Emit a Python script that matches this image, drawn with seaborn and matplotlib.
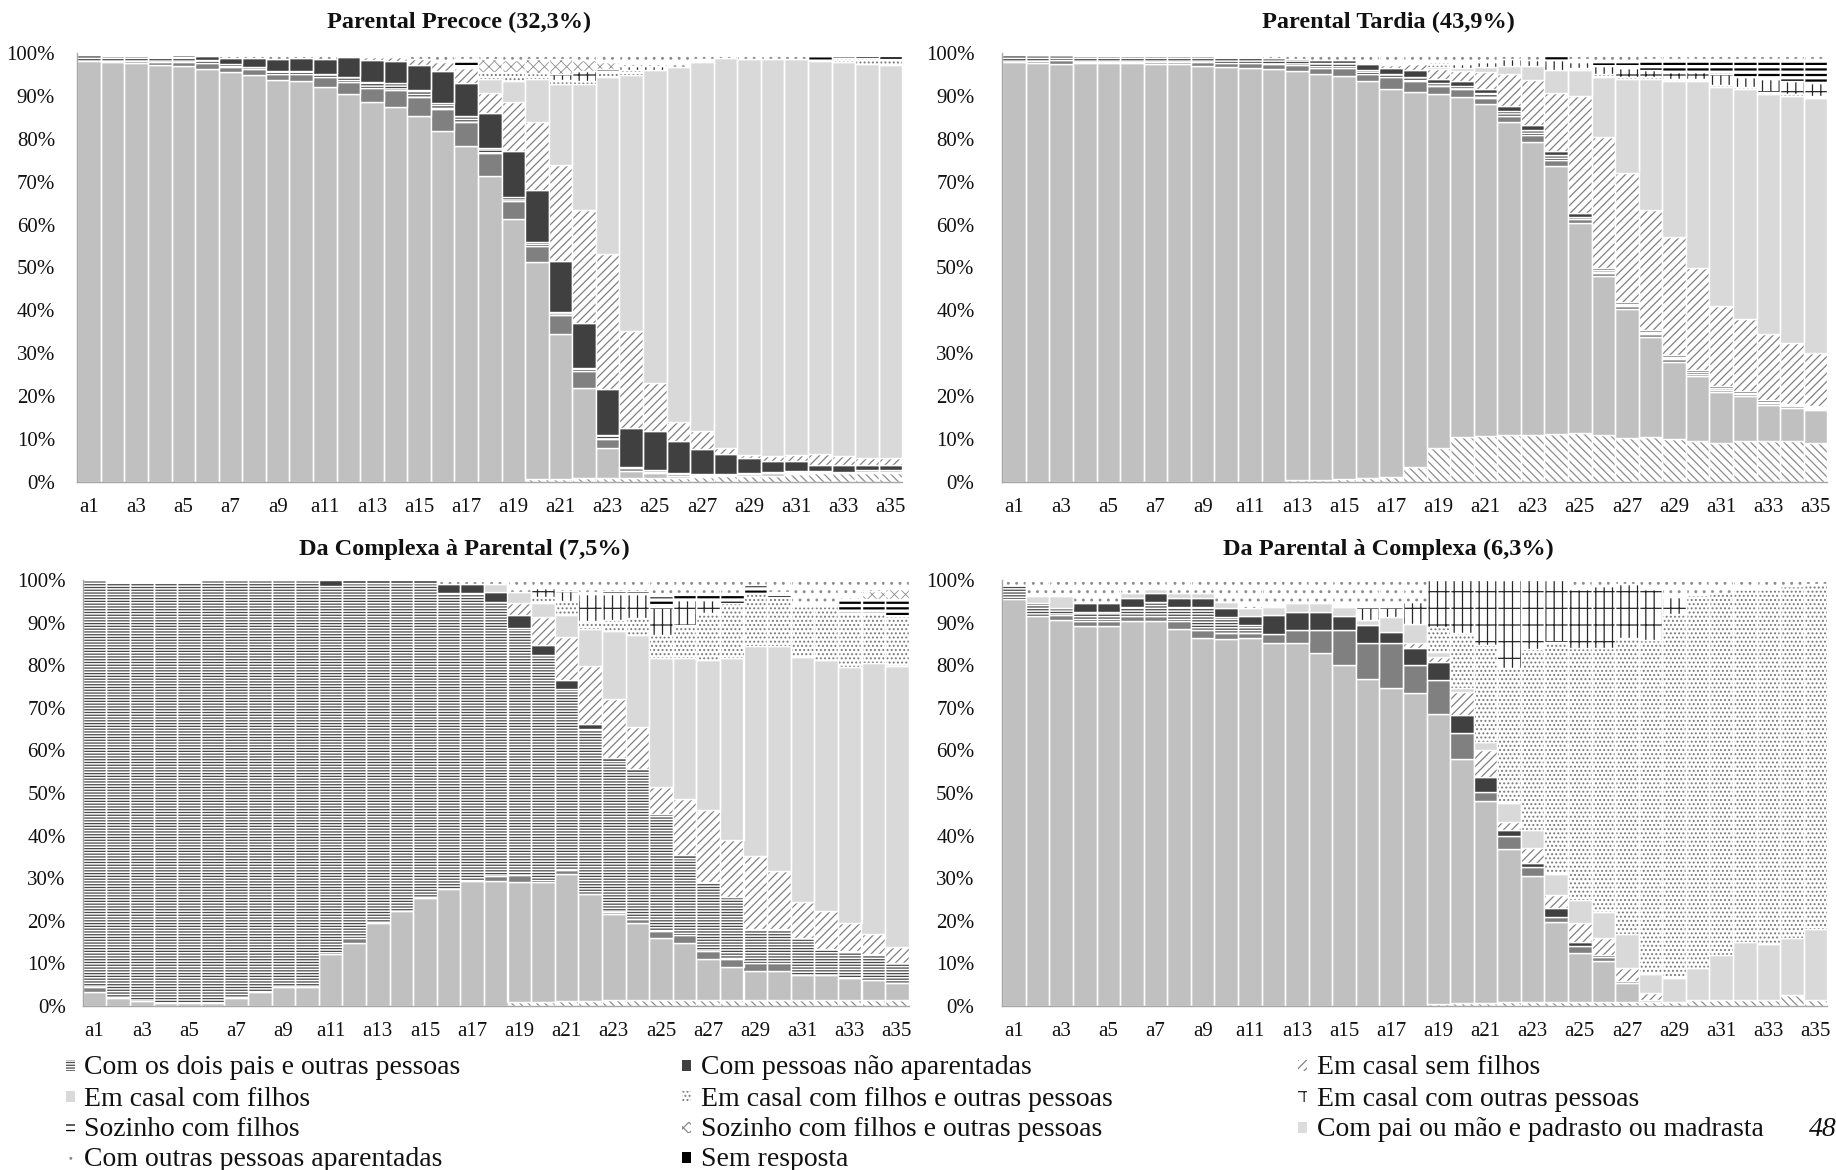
import numpy as np
import matplotlib
matplotlib.use("Agg")
import matplotlib.pyplot as plt
from matplotlib.patches import Rectangle
import seaborn as sns

# ─────────────────────────────────────────
# DADOS: percentagem acumulada no topo de cada categoria (None = ausente)
# ─────────────────────────────────────────
N = None
IDADES = [f"a{i}" for i in range(1, 36)]

# ordem de empilhamento (de baixo para cima); "apa" fecha sempre nos 100%
ORDEM = ["soz", "dp", "um", "dpo", "nap", "csf", "ccf", "cfo", "cco", "scf", "sfo", "sr", "apa"]

P1 = {  # Parental Precoce
    "soz": [N]*19 + [0.8, 0.8, 1.0, 1.0, 1.0, 1.0, 1.0, 1.2, 1.5, 1.5, 1.5, 1.8, 2.0, 2.0, 2.0, 2.0],
    "dp":  [98.1, 97.8, 97.6, 97.1, 97.0, 96.3, 95.6, 94.9, 93.7, 93.5, 92.0, 90.4, 88.6, 87.3, 85.3, 81.8,
            78.3, 71.4, 61.2, 51.2, 34.4, 21.8, 8.0, 2.5, 2.0, 1.5, 1.4, 1.6, 1.8, 2.0, 2.2, 2.3, 2.2, 2.4, 2.4],
    "um":  [N, 98.2, 98.2, 97.9, 98.0, 97.6, 96.8, 96.2, 95.1, 95.1, 94.3, 93.3, 91.8, 91.4, 89.7, 86.9,
            84.0, 76.8, 65.5, 55.0, 38.9, 25.9, 10.0, 3.2, 2.4, 1.8, 1.6, 1.7] + [N]*7,
    "dpo": [99.8, 99.2, 99.2, 99.0, 99.0, 98.3, 97.4, 96.7, 95.8, 95.8, 95.1, 94.3, 93.3, 92.9, 91.3, 88.4,
            85.2, 77.9, 66.4, 56.0, 39.7, 26.5, 11.0, 3.6, 2.8, 2.2, 1.8, 1.9, 2.0, 2.3, 2.5, 2.6, 2.4, 2.7, 2.7],
    "nap": [N, N, N, N, 99.6, 99.2, 98.9, 98.9, 98.6, 98.8, 98.6, 99.0, 98.4, 98.1, 97.2, 95.8,
            92.9, 85.9, 77.2, 68.1, 51.5, 37.0, 21.6, 12.7, 12.0, 9.5, 7.8, 6.5, 5.5, 5.0, 4.8, 4.0, 4.0, 4.0, 4.0],
    "csf": [N]*12 + [99.0, 99.0, 98.5, 98.0, 96.4, 90.6, 88.6, 83.8, 73.8, 63.4, 53.1, 35.2, 23.0, 14.1,
                     12.0, 8.0, 6.2, 6.0, 6.3, 6.5, 6.0, 5.5, 5.5],
    "ccf": [N]*17 + [93.9, 93.5, 93.9, 92.7, 92.7, 94.5, 94.9, 96.0, 96.8, 97.8, 98.8, 98.5, 98.6, 98.6,
                     98.1, 97.9, 97.5, 97.2],
    "cfo": [N]*17 + [95.5, 95.5, 95.3, 93.7, 93.5, 95.5, 96.0] + [N]*8 + [98.8, 98.8, 98.6],
    "cco": [N]*20 + [95.2, 95.9, N, 97.0, 97.0] + [N]*10,
    "scf": [N]*16 + [98.6] + [N]*5 + [96.2] + [N]*3 + [98.6] + [N]*4 + [99.3, 99.4, 99.7, 99.5],
    "sfo": [N]*17 + [98.5, 98.3, 98.5, 98.5, 98.3, 98.0] + [N]*12,
}

P2 = {  # Parental Tardia
    "soz": [N]*12 + [0.4, 0.5, 0.7, 1.0, 1.2, 3.5, 8.0, 10.5, 10.8, 11.0, 11.0, 11.2, 11.5, 11.0, 10.2,
                     10.5, 10.0, 9.5, 9.0, 9.5, 9.5, 9.5, 9.0],
    "dp":  [98.0, 97.6, 97.4, 97.6, 97.6, 97.6, 97.4, 97.4, 97.0, 96.8, 96.6, 96.2, 95.8, 95.2, 94.6, 93.5,
            91.7, 91.0, 90.5, 89.8, 88.1, 83.8, 79.3, 73.7, 60.4, 48.0, 40.4, 33.8, 28.0, 24.7, 21.0, 20.0,
            17.9, 17.3, 16.8],
    "um":  [N, 98.2, 98.4, 97.9, 97.9, 97.9, 97.9, 98.0, 97.8, 97.6, 97.7, 97.4, 97.3, 96.6, 96.5, 95.1,
            94.3, 93.5, 92.3, 91.6, 89.6, 85.3, 80.9, 75.1, 61.2, 48.8, 41.0, 34.4, 28.6, 25.2, 21.5, 20.4,
            18.3, 17.6, 17.1],
    "dpo": [99.8, 99.6, 99.6, 99.3, 99.3, 99.3, 99.3, 99.3, 99.2, 99.0, 99.0, 98.8, 98.6, 97.7, 97.6, 96.0,
            95.1, 94.4, 93.1, 92.3, 90.6, 86.5, 82.1, 76.3, 61.8, 49.4, 41.5, 35.0, 29.2, 25.7, 22.0, 20.8,
            18.6, 17.9, 17.4],
    "nap": [N]*13 + [98.4, 98.4, 97.4, 96.6, 96.0, 93.9, 93.5, 91.6, 87.7, 83.3, 77.2, 62.7, 50.0, 42.0,
                     35.5, 29.6, 26.0, 22.4, 21.2, 19.0, 18.2, 17.7],
    "csf": [N]*16 + [97.3, 97.4, 96.3, 95.8, 95.6, 95.1, 93.7, 90.6, 90.0, 80.5, 72.0, 63.5, 57.0, 50.0,
                     41.0, 38.0, 34.5, 32.5, 30.0],
    "ccf": [N]*18 + [96.8, 96.5, 96.8, 97.0, 97.0, 96.0, 96.0, 94.5, 94.0, 94.0, 93.5, 93.5, 92.0, 91.5,
                     90.5, 90.0, 89.5],
    "cfo": [N]*18 + [98.0] + [N]*5 + [96.5, 95.0, 94.5, 94.5, 94.0, 94.0, 92.5, 92.0, 91.0, 90.5, 90.0],
    "cco": [N]*19 + [97.5, 98.0, 98.5, 98.4, 98.4, 98.0, 97.0, 96.5, 96.0, 95.5, 95.5, 95.0, 94.5, 94.0,
                     93.5, 93.0],
    "scf": [N]*23 + [99.6, 98.5, 98.0, 98.0, 98.5, 98.5, 98.5, 98.5, 98.5, 98.5, 98.5, 98.5],
}

P3 = {  # Da Complexa à Parental
    "soz": [N]*18 + [1.0, 1.0, 1.2, 1.2, 1.5, 1.5, 1.5, 1.5, 1.5, 1.5, 1.5, 1.5, 1.5, 1.5, 1.5, 1.5, 1.5],
    "dp":  [3.4, 1.9, 1.2, 0.7, 0.7, 0.7, 1.9, 3.4, 4.5, 4.5, 12.1, 14.8, 19.5, 22.3, 25.3, 27.5, 29.4,
            29.3, 29.0, 29.2, 31.0, 26.3, 21.6, 19.5, 15.9, 14.8, 11.0, 9.2, 8.3, 8.3, 7.3, 7.3, 6.6, 6.2, 5.4],
    "um":  [4.5] + [N]*10 + [15.9] + [N]*5 + [30.4, 30.8, N, 31.9, N, 22.1, 20.5, 17.7, 16.7, 12.9, 11.0,
                                          10.1, 10.1] + [N]*5,
    "dpo": [100, 99.5, 99.5, 99.5, 99.5, 100, 100, 100, 100, 100, 98.5, 99.4, 99.4, 99.4, 99.4, 96.9, 96.9,
            94.9, 88.7, 82.4, 74.3, 65.1, 57.5, 54.9, 45.1, 34.8, 29.2, 25.5, 18.0, 18.0, 15.9, 13.3, 12.9,
            12.1, 10.0],
    "nap": [N]*10 + [100, 100, 100, 100, 100, 99.1, 99.1, 97.3, 91.8, 84.7, 76.6, 66.3, 58.1, 55.6, N, 35.4]
           + [N]*9,
    "csf": [N]*18 + [94.7, 91.2, 86.7, 79.8, 72.1, 65.4, 51.3, 48.6, 46.0, 39.0, 35.2, 31.6, 24.4, 22.4,
                     19.6, 16.9, 13.8],
    "ccf": [N]*17 + [99.1, 97.3, 94.7, 91.8, 88.5, 88.0, 87.0, 81.8, 81.8, 81.3, 81.8, 84.4, 84.4, 82.0,
                     81.2, 79.5, 80.6, 79.7],
    "cfo": [N]*19 + [96.1, 95.0, 90.3, 90.7, 91.0, 87.1, 89.4, 92.2, 94.5, 96.9, 95.9, 93.8, 93.8, 92.2,
                     92.2, 91.5],
    "cco": [N]*19 + [98.1, 97.5, 96.6, 96.6, 96.6, 93.7, 95.3, 95.3] + [N]*8,
    "scf": [N]*21 + [97.2, 97.4, 97.4, 96.2, 97.0, 97.0, 97.0, 98.8, 97.1, 94.6, 94.6, 95.5, 95.5, 95.5],
    "sfo": [N]*33 + [97.5, 97.8],
}

P4 = {  # Da Parental à Complexa
    "soz": [N]*18 + [0.5, 0.8, 0.8, 1.0, 1.0, 1.0, 1.0, 1.0, 1.0, 1.0, 1.0, 1.5, 1.5, 1.5, 1.5, 2.5, 1.5],
    "dp":  [95.5, 91.5, 90.5, 89.3, 89.3, 90.4, 90.4, 88.4, 86.3, 86.2, 86.3, 85.3, 85.1, 82.9, 80.0, 76.7,
            74.6, 73.5, 68.5, 57.9, 48.2, 36.8, 30.5, 19.8, 12.5, 10.5, 5.5, 1.5] + [N]*7,
    "um":  [N, N, 91.7, 90.4, 90.4, 91.5, 91.5, 90.4, 88.3, 87.5, 87.5, 87.3, 88.2, 88.2, 88.2, 85.1, 85.1,
            80.0, 76.5, 64.2, 50.3, 39.9, 32.7, 20.9, 14.0, 11.5, 5.8] + [N]*8,
    "dpo": [98.8, 94.7, 93.5, 92.6, 92.6, 93.6, 94.8, 93.7, 93.7, 91.3, 89.4] + [N]*24,
    "nap": [N, N, N, 94.7, 94.7, 95.7, 96.9, 95.7, 95.7, 93.5, 91.6, 91.8, 92.6, 92.6, 91.6, 89.4, 87.9,
            84.1, 80.8, 68.3, 53.7, 41.2, 33.6, 23.1, 15.0, 12.0] + [N]*9,
    "csf": [N]*17 + [85.3, 82.0, 73.6, 60.1, 43.3, 37.0, 26.1, 19.5, 16.0, 9.0, 3.0] + [N]*7,
    "ccf": [N, 96.2, 96.3, N, N, 96.9, 97.9, 96.9, 96.9, 94.9, 93.5, 93.7, 94.7, 94.7, 93.7, 90.5, 91.2,
            89.7, 83.2, 74.6, 62.0, 47.6, 41.3, 30.9, 25.0, 22.0, 17.0, 7.5, 6.5, 9.0, 12.0, 15.0, 14.5,
            16.0, 18.0],
    "cfo": [N]*18 + [89.0, 87.5, 84.7, 79.3, 83.7, 85.5, 84.0, 84.0, 86.5, 86.0, 92.0, 96.5, 97.0, 98.0,
                     98.0, 98.5, 99.0],
    "cco": [N]*15 + [93.7, 93.7, 94.9, 100, 100, 100, 100, 100, 100, 98.0, 98.5, 99.0, 98.0, 96.0] + [N]*6,
}

TITULOS = ["Parental Precoce (32,3%)", "Parental Tardia (43,9%)",
           "Da Complexa à Parental (7,5%)", "Da Parental à Complexa (6,3%)"]

# legenda (ordem por colunas, como no original)
LEGENDA = [
    ["dpo", "Com os dois pais e outras pessoas"], ["ccf", "Em casal com filhos"],
    ["scf", "Sozinho com filhos"], ["apa", "Com outras pessoas aparentadas"],
    ["nap", "Com pessoas não aparentadas"], ["cfo", "Em casal com filhos e outras pessoas"],
    ["sfo", "Sozinho com filhos e outras pessoas"], ["sr", "Sem resposta"],
    ["csf", "Em casal sem filhos"], ["cco", "Em casal com outras pessoas"],
    ["pad", "Com pai ou mão e padrasto ou madrasta"],
]

# ─────────────────────────────────────────
# ESTILOS (tons de cinzento + tramas)
# ─────────────────────────────────────────
ESTILO = {
    "soz": dict(fc="white", hatch="\\\\\\\\", hc="#8c8c8c"),
    "dp":  dict(fc="#c0c0c0"),
    "um":  dict(fc="#808080"),
    "dpo": dict(fc="white", hatch="------", hc="#4a4a4a", hlw=0.9),
    "nap": dict(fc="#404040"),
    "csf": dict(fc="white", hatch="////", hc="#808080"),
    "ccf": dict(fc="#d9d9d9"),
    "cfo": dict(fc="white", hatch="....", hc="#7a7a7a"),
    "cco": dict(fc="white", hatch="|+", hc="#262626"),
    "scf": dict(fc="white", hatch="---", hc="#000000", hlw=1.6),
    "sfo": dict(fc="white", hatch="xxx", hc="#8a8a8a", hlw=0.6),
    "sr":  dict(fc="#000000"),
    "apa": dict(fc="white", hatch="..", hc="#8c8c8c"),
    "pad": dict(fc="#dcdcdc"),
}

W, H = 1836, 1170
sns.set_theme(style="white")
plt.rcParams["font.family"] = ["Liberation Serif", "DejaVu Serif"]
plt.rcParams["hatch.linewidth"] = 0.9


def fx(px):
    return px / W


def fy(py):
    return 1 - py / H


def espessura_trama(artistas, lw):
    if lw is None:
        return
    for a in artistas:
        if hasattr(a, "set_hatch_linewidth"):
            a.set_hatch_linewidth(lw)


def desenha(ax, dados):
    x = np.arange(len(IDADES))
    prev = np.zeros(len(IDADES))
    for cod in ORDEM:
        if cod == "apa":
            top = np.full(len(IDADES), 100.0)
        elif cod in dados:
            vals = dados[cod]
            assert len(vals) == len(IDADES), cod
            top = np.array([p if v is None else v for v, p in zip(vals, prev)], dtype=float)
        else:
            continue
        top = np.maximum(top, prev)
        alt = top - prev
        m = alt > 0.01
        est = ESTILO[cod]
        barras = ax.bar(x[m], alt[m], bottom=prev[m], width=1.0, color=est["fc"],
                        hatch=est.get("hatch"), edgecolor=est.get("hc", est["fc"]), linewidth=0)
        espessura_trama(barras, est.get("hlw"))
        ax.bar(x[m], alt[m], bottom=prev[m], width=1.0, fill=False,
               edgecolor="white", linewidth=1.0)
        prev = top

    ax.set_xlim(-0.5, len(IDADES) - 0.5)
    ax.set_ylim(0, 100)
    ax.set_xticks(x[::2])
    ax.set_xticklabels(IDADES[::2])
    ax.set_yticks(range(0, 101, 10))
    ax.set_yticklabels([f"{v}%" for v in range(0, 101, 10)])
    ax.grid(False)
    sns.despine(ax=ax)
    for s in ("left", "bottom"):
        ax.spines[s].set_color("#a6a6a6")
        ax.spines[s].set_linewidth(1.0)


fig = plt.figure(figsize=(W / 100, H / 100), dpi=100)
fig.patch.set_facecolor("white")

# posições (px) dos quatro painéis: esquerda, topo, baixo, largura, pad y, título
PAINEIS = [
    (P1, 77.3, 53, 482, 825, 16.0, (459, 22)),
    (P2, 1002.3, 53, 482, 825, 20.0, (1388, 22)),
    (P3, 82.7, 580, 1006, 826, 12.2, (464, 549)),
    (P4, 1002.3, 580, 1006, 825, 20.0, (1388, 549)),
]

for (dados, esq, topo, baixo, larg, ypad, tpos), titulo in zip(PAINEIS, TITULOS):
    ax = fig.add_axes([fx(esq), fy(baixo), larg / W, (baixo - topo) / H])
    desenha(ax, dados)
    ax.tick_params(axis="y", length=0, labelsize=15, pad=ypad, colors="#111111")
    ax.tick_params(axis="x", length=0, labelsize=15, pad=11.5, colors="#111111")
    fig.text(fx(tpos[0]), fy(tpos[1]), titulo, ha="center", va="center",
             fontsize=17.5, fontweight="bold", color="#111111")

# legenda manual, com chaves pequenas como no original
COL_SW = [66, 682, 1298]
COL_TX = [84, 701, 1317]
LIN_Y = [1068, 1099, 1130, 1160]
for k, (cod, rot) in enumerate(LEGENDA):
    c, r = k // 4, k % 4
    est = ESTILO[cod]
    sw = Rectangle((fx(COL_SW[c]), fy(LIN_Y[r] + 3)), 9 / W, 11 / H, transform=fig.transFigure,
                   facecolor=est["fc"], hatch=est.get("hatch"),
                   edgecolor=est.get("hc", est["fc"]), linewidth=0)
    fig.add_artist(sw)
    fig.text(fx(COL_TX[c]), fy(LIN_Y[r]), rot, ha="left", va="center", fontsize=20, color="#111111")

fig.text(fx(1823), fy(1130), "48", ha="center", va="center", fontsize=20, style="italic", color="#111111")

fig.savefig("out.png", dpi=100, facecolor="white")
